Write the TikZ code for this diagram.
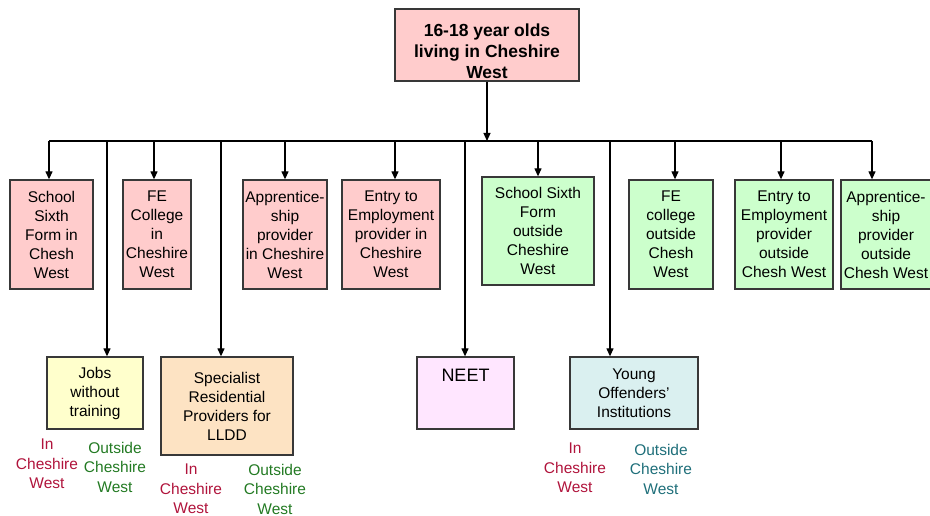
\documentclass[tikz,border=0pt]{standalone}
\usepackage{fontspec}
\setmainfont{Liberation Sans}
\usetikzlibrary{arrows.meta}
\definecolor{pinkfill}{HTML}{FFCCCC}
\definecolor{greenfill}{HTML}{CCFFCC}
\definecolor{yellowfill}{HTML}{FFFFCC}
\definecolor{peachfill}{HTML}{FDE3C3}
\definecolor{lilacfill}{HTML}{FFE6FF}
\definecolor{cyanfill}{HTML}{DAF0F0}
\definecolor{boxline}{HTML}{383838}
\definecolor{labred}{HTML}{B0143C}
\definecolor{labgreen}{HTML}{237A23}
\definecolor{labteal}{HTML}{1F6F7A}
\begin{document}
\begin{tikzpicture}[x=1pt,y=-1pt,
  every node/.style={font=\fontsize{15.5}{19}\selectfont},
  box/.style={draw=boxline, line width=1.3pt, inner sep=0pt, align=center},
  conn/.style={line width=1.2pt, black},
  arr/.style={conn, -{Triangle[length=8pt,width=7pt]}},
  lab/.style={align=center, inner sep=0pt, font=\fontsize{15.5}{19.5}\selectfont}
]
\useasboundingbox (0,0) rectangle (930,516);
\clip (0,0) rectangle (930,516);

% top box
\node[box, fill=pinkfill, minimum width=184pt, minimum height=72pt, text height=25pt,
      font=\fontsize{17.5}{21}\selectfont\bfseries] (top) at (487,45)
  {\parbox[t]{180pt}{\centering 16-18 year olds\\living in Cheshire\\West}};

% bus coordinates
\coordinate (bl) at (49,141);
\coordinate (br) at (872,141);
\coordinate (bt) at (top.south |- bl);
\coordinate (t2) at (154,141);
\coordinate (t3) at (285,141);
\coordinate (t4) at (395,141);
\coordinate (t5) at (538,141);
\coordinate (t6) at (675,141);
\coordinate (t7) at (781,141);
\coordinate (d1) at (107,141);
\coordinate (d2) at (221,141);
\coordinate (d3) at (465,141);
\coordinate (d4) at (610,141);

% top row
\node[box, fill=pinkfill, minimum width=83pt, minimum height=109pt] (b1) at (51.5,234.5)
  {School\\Sixth\\Form in\\Chesh\\West};
\node[box, fill=pinkfill, minimum width=68pt, minimum height=109pt] (b2) at (157,234.5)
  {FE\\College\\in\\Cheshire\\West};
\node[box, fill=pinkfill, minimum width=84pt, minimum height=109pt] (b3) at (285,234.5)
  {Apprentice-\\ship\\provider\\in Cheshire\\West};
\node[box, fill=pinkfill, minimum width=98pt, minimum height=109pt] (b4) at (391,234.5)
  {Entry to\\Employment\\provider in\\Cheshire\\West};
\node[box, fill=greenfill, minimum width=112pt, minimum height=108pt] (b5) at (538,231)
  {School Sixth\\Form\\outside\\Cheshire\\West};
\node[box, fill=greenfill, minimum width=84pt, minimum height=109pt] (b6) at (671,234.5)
  {FE\\college\\outside\\Chesh\\West};
\node[box, fill=greenfill, minimum width=98pt, minimum height=109pt] (b7) at (784,234.5)
  {Entry to\\Employment\\provider\\outside\\Chesh West};
\node[box, fill=greenfill, minimum width=90pt, minimum height=109pt] (b8) at (886,234.5)
  {Apprentice-\\ship\\provider\\outside\\Chesh West};

% bottom row
\node[box, fill=yellowfill, minimum width=96pt, minimum height=72pt] (jobs) at (95,393)
  {Jobs\\without\\training};
\node[box, fill=peachfill, minimum width=132pt, minimum height=98pt] (spec) at (227,406)
  {Specialist\\Residential\\Providers for\\LLDD};
\node[box, fill=lilacfill, minimum width=97pt, minimum height=72pt, text depth=36pt,
      font=\fontsize{18}{21}\selectfont] (neet) at (465.5,393)
  {NEET};
\node[box, fill=cyanfill, minimum width=128pt, minimum height=72pt] (yo) at (634,393)
  {Young\\Offenders’\\Institutions};

% connectors
\draw[arr] (top.south) -- (bt);
\draw[conn] (bl) -- (br);
\draw[arr] (bl) -- (bl |- b1.north);
\draw[arr] (t2) -- (t2 |- b2.north);
\draw[arr] (t3) -- (t3 |- b3.north);
\draw[arr] (t4) -- (t4 |- b4.north);
\draw[arr] (t5) -- (t5 |- b5.north);
\draw[arr] (t6) -- (t6 |- b6.north);
\draw[arr] (t7) -- (t7 |- b7.north);
\draw[arr] (br) -- (br |- b8.north);
\draw[arr] (d1) -- (d1 |- jobs.north);
\draw[arr] (d2) -- (d2 |- spec.north);
\draw[arr] (d3) -- (d3 |- neet.north);
\draw[arr] (d4) -- (d4 |- yo.north);

% labels
\node[lab, text=labred] (l1) at (47,464) {In\\Cheshire\\West};
\node[lab, text=labgreen] (l2) at (115,467) {Outside\\Cheshire\\West};
\node[lab, text=labred] (l3) at (191,489) {In\\Cheshire\\West};
\node[lab, text=labgreen] (l4) at (275,489) {Outside\\Cheshire\\West};
\node[lab, text=labred] (l5) at (575,468) {In\\Cheshire\\West};
\node[lab, text=labteal] (l6) at (661,469) {Outside\\Cheshire\\West};
\end{tikzpicture}
\end{document}
